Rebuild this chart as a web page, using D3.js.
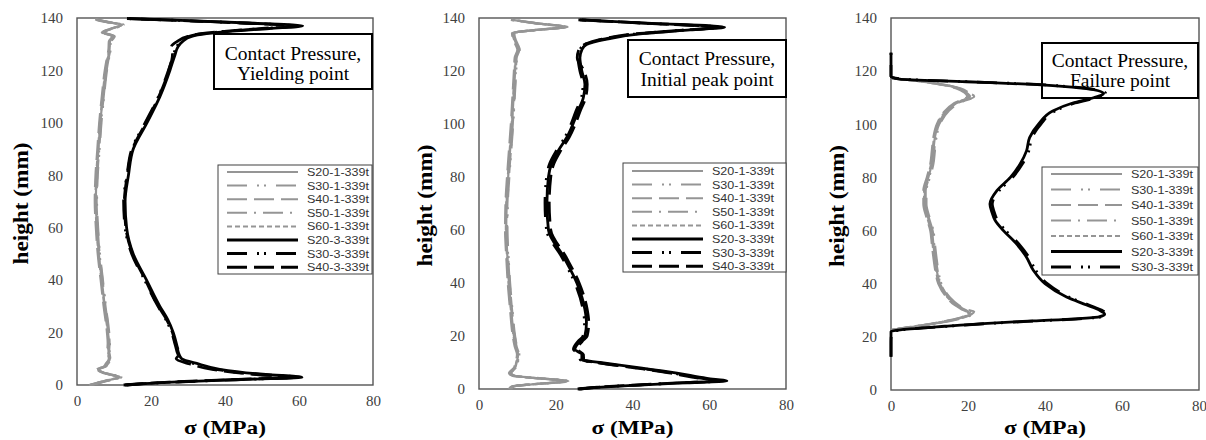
<!DOCTYPE html>
<html>
<head>
<meta charset="utf-8">
<script src="https://cdn.jsdelivr.net/npm/d3@7"></script>
<style>
	body { margin: 0; background: #fff; }
	svg { display: block; }
</style>
</head>
<body>
<script>
// tick values shared by the three panels
let xTicks = [0, 20, 40, 60, 80]
let yTicks = [0, 20, 40, 60, 80, 100, 120, 140]

let legendNames = ['S20-1-339t', 'S30-1-339t', 'S40-1-339t', 'S50-1-339t', 'S60-1-339t', 'S20-3-339t', 'S30-3-339t', 'S40-3-339t']

// ---- yielding point ----
let p1GrayH = [0, 1, 2, 3, 4, 5, 6, 7, 8, 10, 13, 16, 20, 30, 40, 50, 60, 70, 80, 90, 100, 110, 120, 125, 128, 131, 133, 134.5, 136, 137.4, 138.5, 139.5]
let p1S20_1 = [3.5, 6.2, 9.0, 11.6, 9.0, 6.5, 5.7, 7.5, 8.0, 8.9, 8.5, 8.6, 8.4, 7.5, 6.7, 5.9, 5.4, 5.1, 5.3, 5.8, 6.3, 7.0, 7.8, 8.4, 8.8, 8.9, 9.8, 7.0, 9.5, 12.2, 8.0, 4.9]
let p1S30_1 = [3.8, 6.6, 9.4, 12.0, 9.4, 6.8, 6.0, 7.8, 8.3, 9.2, 8.8, 8.9, 8.7, 7.8, 7.0, 6.2, 5.7, 5.4, 5.6, 6.1, 6.6, 7.3, 8.1, 8.7, 9.1, 9.3, 10.2, 7.4, 9.8, 12.6, 8.4, 5.2]
let p1S40_1 = [3.3, 5.9, 8.6, 11.2, 8.7, 6.2, 5.4, 7.2, 7.7, 8.6, 8.2, 8.3, 8.1, 7.2, 6.4, 5.6, 5.1, 4.8, 5.0, 5.5, 6.0, 6.7, 7.5, 8.1, 8.5, 8.6, 9.5, 6.7, 9.2, 11.8, 7.7, 4.6]
let p1S50_1 = [3.6, 6.4, 9.2, 11.8, 9.2, 6.6, 5.9, 7.7, 8.2, 9.0, 8.7, 8.8, 8.6, 7.7, 6.9, 6.1, 5.6, 5.3, 5.5, 6.0, 6.5, 7.2, 8.0, 8.6, 9.0, 9.1, 10.0, 7.2, 9.7, 12.4, 8.2, 5.0]
let p1S60_1 = [3.4, 6.0, 8.8, 11.4, 8.8, 6.4, 5.6, 7.4, 7.9, 8.7, 8.4, 8.5, 8.3, 7.4, 6.6, 5.8, 5.3, 5.0, 5.2, 5.7, 6.2, 6.9, 7.7, 8.3, 8.7, 8.8, 9.7, 6.9, 9.4, 12.0, 7.9, 4.8]

let p1BlackH = [0, 0.5, 1, 2, 3, 4, 6, 8, 10, 12, 15, 20, 25, 30, 40, 50, 60, 70, 80, 90, 100, 110, 120, 126, 129, 131, 133, 134, 135, 136, 137, 138, 139, 139.8]
let p1S20_3 = [13.0, 18.0, 24.0, 42.0, 60.8, 51.0, 38.6, 33.0, 28.3, 27.5, 27.0, 26.0, 24.5, 22.4, 18.8, 15.2, 13.4, 13.0, 13.9, 15.2, 18.9, 22.4, 25.1, 26.5, 27.3, 28.5, 31.0, 35.0, 42.0, 52.0, 61.0, 48.0, 30.0, 13.5]
let p1S30_3 = [13.4, 18.5, 24.8, 43.0, 59.5, 49.5, 37.5, 32.0, 28.0, 27.2, 26.6, 25.6, 24.0, 21.9, 18.3, 14.8, 13.0, 12.6, 13.5, 14.8, 18.4, 22.0, 24.7, 26.1, 26.9, 28.0, 30.3, 34.0, 41.0, 50.5, 59.0, 46.5, 29.0, 13.0]
let p1S40_3 = [12.6, 17.5, 23.5, 41.0, 58.0, 48.5, 36.5, 30.5, 26.8, 27.8, 26.8, 25.8, 24.2, 22.0, 18.5, 15.0, 13.2, 12.8, 13.6, 15.0, 18.6, 22.1, 24.8, 25.8, 25.5, 27.0, 30.0, 33.5, 40.5, 50.0, 58.5, 46.0, 28.5, 13.8]

// ---- initial peak point ----
let p2GrayH = [0, 1, 2, 3, 4, 5, 6, 8, 10, 13, 16, 20, 30, 40, 50, 60, 70, 80, 90, 100, 110, 120, 125, 128, 130, 132, 134.3, 135.5, 136.6, 138, 139.3]
let p2S20_1 = [8.1, 8.9, 16.0, 23.3, 16.0, 9.0, 8.1, 9.4, 9.8, 10.2, 9.6, 9.1, 8.4, 7.8, 7.4, 7.1, 7.2, 7.6, 8.1, 8.6, 9.0, 9.4, 9.6, 10.3, 9.8, 9.2, 8.9, 15.0, 22.9, 15.0, 8.6]
let p2S30_1 = [8.4, 9.2, 16.5, 23.0, 16.4, 9.3, 8.4, 9.7, 10.1, 10.5, 9.9, 9.4, 8.7, 8.1, 7.7, 7.4, 7.5, 7.9, 8.4, 8.9, 9.3, 9.7, 9.9, 10.6, 10.1, 9.5, 9.2, 15.4, 22.5, 15.4, 8.9]
let p2S40_1 = [7.8, 8.6, 15.6, 22.8, 15.6, 8.7, 7.8, 9.1, 9.5, 9.9, 9.3, 8.8, 8.1, 7.5, 7.1, 6.8, 6.9, 7.3, 7.8, 8.3, 8.7, 9.1, 9.3, 10.0, 9.5, 8.9, 8.6, 14.6, 22.3, 14.7, 8.3]
let p2S50_1 = [8.2, 9.0, 16.3, 23.6, 16.2, 9.2, 8.3, 9.6, 10.0, 10.4, 9.8, 9.3, 8.6, 8.0, 7.6, 7.3, 7.4, 7.8, 8.3, 8.8, 9.2, 9.6, 9.8, 10.5, 10.0, 9.4, 9.1, 15.2, 23.1, 15.2, 8.8]
let p2S60_1 = [8.0, 8.8, 15.8, 23.0, 15.8, 8.9, 8.0, 9.3, 9.7, 10.1, 9.5, 9.0, 8.3, 7.7, 7.3, 7.0, 7.1, 7.5, 8.0, 8.5, 8.9, 9.3, 9.5, 10.2, 9.7, 9.1, 8.8, 14.8, 22.6, 14.9, 8.5]

let p2BlackH = [0, 0.7, 1.5, 2.3, 3, 4, 6, 8, 10, 11, 13, 15, 18, 20, 25, 30, 40, 50, 60, 70, 80, 85, 90, 95, 100, 105, 110, 115, 120, 125, 128, 130, 132, 134, 135.5, 136.5, 138, 139.3]
let p2S20_3 = [26.0, 32.0, 42.0, 53.0, 64.6, 59.4, 51.6, 42.0, 31.5, 26.8, 26.8, 25.0, 26.3, 27.6, 28.0, 27.6, 25.5, 22.0, 18.1, 17.7, 18.1, 18.9, 20.7, 22.9, 24.5, 25.8, 27.2, 27.6, 26.8, 26.3, 26.8, 28.0, 33.3, 42.0, 55.0, 64.0, 45.0, 26.3]
let p2S30_3 = [26.4, 31.5, 41.0, 52.0, 63.0, 58.2, 50.5, 41.0, 30.8, 26.4, 26.2, 24.6, 25.8, 27.1, 27.5, 27.1, 25.0, 21.5, 17.6, 17.2, 17.6, 18.4, 20.2, 22.4, 24.0, 25.3, 26.7, 27.1, 26.3, 25.8, 26.3, 27.5, 32.5, 41.0, 54.0, 63.0, 44.0, 26.8]
let p2S40_3 = [25.7, 31.0, 40.5, 51.5, 62.5, 57.5, 50.0, 40.5, 30.5, 27.3, 27.2, 25.6, 26.9, 28.2, 28.6, 28.2, 26.1, 22.6, 18.7, 18.3, 18.7, 19.5, 21.3, 23.5, 25.1, 26.4, 27.8, 28.2, 27.4, 25.6, 26.0, 27.5, 32.0, 40.5, 53.5, 62.5, 43.5, 25.9]

// ---- failure point ----
let p3GrayH = [22.5, 23.5, 24.5, 25.5, 26.5, 27.5, 28.5, 29.5, 30.5, 32, 35, 40, 45, 50, 55, 60, 65, 70, 75, 80, 85, 90, 95, 100, 105, 108, 110.5, 112, 113.5, 114.5, 115.5, 116.5, 117.3]
let p3S20_1 = [0, 4.0, 9.0, 13.0, 16.5, 19.0, 20.5, 20.0, 18.8, 17.0, 14.8, 12.7, 11.9, 11.4, 11.0, 10.6, 9.6, 8.8, 8.8, 9.7, 10.6, 11.0, 11.4, 12.3, 14.5, 17.0, 20.5, 19.5, 17.5, 15.0, 11.0, 6.0, 0]
let p3S30_1 = [0, 4.3, 9.4, 13.5, 17.0, 19.6, 21.2, 20.6, 19.3, 17.5, 15.2, 13.1, 12.3, 11.8, 11.4, 11.0, 10.0, 9.2, 9.2, 10.1, 11.0, 11.4, 11.8, 12.7, 15.0, 17.6, 21.3, 20.1, 18.0, 15.4, 11.4, 6.3, 0]
let p3S40_1 = [0, 3.8, 8.7, 12.6, 16.0, 18.5, 19.8, 19.5, 18.2, 16.5, 14.4, 12.3, 11.5, 11.0, 10.6, 10.2, 9.2, 8.4, 8.4, 9.3, 10.2, 10.6, 11.0, 11.9, 14.0, 16.5, 19.8, 19.0, 17.0, 14.6, 10.6, 5.7, 0]
let p3S50_1 = [0, 4.1, 9.2, 13.3, 16.8, 19.3, 20.9, 21.6, 19.0, 17.3, 15.0, 12.9, 12.1, 11.6, 11.2, 10.8, 9.8, 9.0, 9.0, 9.9, 10.8, 11.2, 11.6, 12.5, 14.8, 17.3, 21.6, 19.8, 17.8, 15.2, 11.2, 6.1, 0]
let p3S60_1 = [0, 3.9, 8.8, 12.8, 16.2, 18.8, 20.2, 19.8, 18.5, 16.8, 14.6, 12.5, 11.7, 11.2, 10.8, 10.4, 9.4, 8.6, 8.6, 9.5, 10.4, 10.8, 11.2, 12.1, 14.3, 16.8, 20.2, 19.3, 17.3, 14.8, 10.8, 5.9, 0]

let p3BlackH = [12.5, 15, 18, 22, 23, 24, 25, 26, 26.8, 27.5, 28.5, 30, 32, 35, 40, 45, 50, 55, 60, 64, 67, 70, 75, 80, 85, 90, 95, 100, 105, 108, 110, 111.5, 113, 114, 115, 116, 117, 118, 122, 127]
let p3S20_3 = [0, 0, 0, 0, 5.0, 14.0, 24.0, 37.0, 48.0, 54.0, 55.5, 54.2, 50.8, 45.6, 40.0, 37.0, 35.2, 32.6, 29.2, 27.0, 26.2, 25.7, 27.5, 31.0, 33.5, 35.2, 36.0, 38.3, 42.0, 47.2, 52.6, 55.2, 52.6, 47.0, 37.0, 19.6, 2.3, 0, 0, 0]
let p3S30_3 = [0, 0, 0, 0.2, 5.5, 14.8, 25.0, 38.0, 49.0, 54.6, 56.0, 54.8, 51.4, 46.2, 40.6, 37.6, 35.8, 33.2, 29.8, 27.6, 26.8, 26.3, 28.1, 31.6, 34.1, 35.8, 36.6, 38.9, 42.6, 47.8, 53.2, 55.8, 53.2, 47.6, 37.8, 20.4, 2.8, 0, 0, 0]

// line looks, by series name
let grey = '#959595'
let styles = {
	'S20-1-339t': {c: grey, w: 2.2, dash: null},
	'S30-1-339t': {c: grey, w: 2.2, dash: '20,10,2,5,2,10'},
	'S40-1-339t': {c: grey, w: 2.2, dash: '20,7'},
	'S50-1-339t': {c: grey, w: 2.2, dash: '20,7,2,7'},
	'S60-1-339t': {c: grey, w: 2.2, dash: '5,3'},
	'S20-3-339t': {c: '#000', w: 2.8, dash: null},
	'S30-3-339t': {c: '#000', w: 2.8, dash: '20,10,2,5,2,10'},
	'S40-3-339t': {c: '#000', w: 2.8, dash: '20,7'}
}

let panels = [
	{
		pos: {x0: 77, x1: 373, y0: 18, y1: 385}, yTitleX: 21,
		title: ['Contact Pressure,', 'Yielding point'], box: {x: 214, y: 34, w: 158, h: 55, l1: 60, l2: 80},
		legend: {x: 218, y: 165, w: 154, h: 109, row0: 172, step: 13.6, n: 8},
		series: [
			['S20-1-339t', p1GrayH, p1S20_1], ['S30-1-339t', p1GrayH, p1S30_1], ['S40-1-339t', p1GrayH, p1S40_1],
			['S50-1-339t', p1GrayH, p1S50_1], ['S60-1-339t', p1GrayH, p1S60_1],
			['S20-3-339t', p1BlackH, p1S20_3], ['S30-3-339t', p1BlackH, p1S30_3], ['S40-3-339t', p1BlackH, p1S40_3]
		]
	},
	{
		pos: {x0: 479, x1: 786, y0: 18, y1: 389}, yTitleX: 425,
		title: ['Contact Pressure,', 'Initial peak point'], box: {x: 628, y: 40, w: 158, h: 57, l1: 65, l2: 86},
		legend: {x: 623, y: 163, w: 163, h: 109, row0: 171, step: 13.6, n: 8},
		series: [
			['S20-1-339t', p2GrayH, p2S20_1], ['S30-1-339t', p2GrayH, p2S30_1], ['S40-1-339t', p2GrayH, p2S40_1],
			['S50-1-339t', p2GrayH, p2S50_1], ['S60-1-339t', p2GrayH, p2S60_1],
			['S20-3-339t', p2BlackH, p2S20_3], ['S30-3-339t', p2BlackH, p2S30_3], ['S40-3-339t', p2BlackH, p2S40_3]
		]
	},
	{
		pos: {x0: 891, x1: 1199, y0: 18, y1: 390}, yTitleX: 837,
		title: ['Contact Pressure,', 'Failure point'], box: {x: 1042, y: 43, w: 156, h: 55, l1: 67, l2: 87},
		legend: {x: 1042, y: 167, w: 156, h: 108, row0: 174, step: 15.5, n: 7},
		series: [
			['S20-1-339t', p3GrayH, p3S20_1], ['S30-1-339t', p3GrayH, p3S30_1], ['S40-1-339t', p3GrayH, p3S40_1],
			['S50-1-339t', p3GrayH, p3S50_1], ['S60-1-339t', p3GrayH, p3S60_1],
			['S20-3-339t', p3BlackH, p3S20_3], ['S30-3-339t', p3BlackH, p3S30_3]
		]
	}
]

let serif = "'Liberation Serif', 'Times New Roman', Tinos, 'DejaVu Serif', 'Noto Serif', FreeSerif, serif"
let sans = "'Liberation Sans Narrow', 'Liberation Sans', Arial, sans-serif"

let svg = d3.select('body').append('svg')
	.attr('width', 1206).attr('height', 440)

let drawPanel = function(pan) {
	let {x0, x1, y0, y1} = pan.pos
	let x = d3.scaleLinear().domain([0, 80]).range([x0, x1])
	let y = d3.scaleLinear().domain([0, 140]).range([y1, y0])
	let g = svg.append('g')

	// plot frame
	g.append('rect')
		.attr('x', x0).attr('y', y0).attr('width', x1-x0).attr('height', y1-y0)
		.attr('fill', 'none').attr('stroke', '#555').attr('stroke-width', 1.4)

	// tick labels, no tick marks
	let yAxis = g.append('g').attr('transform', `translate(${x0},0)`)
		.call(d3.axisLeft(y).tickValues(yTicks).tickSize(0).tickPadding(14))
	let xAxis = g.append('g').attr('transform', `translate(0,${y1})`)
		.call(d3.axisBottom(x).tickValues(xTicks).tickSize(0).tickPadding(10))
	for (let a of [xAxis, yAxis]) {
		a.attr('font-family', serif).attr('font-size', 15)
		a.select('.domain').remove()
		a.selectAll('text').style('font-family', serif).attr('fill', '#404040')
	}

	g.append('text')
		.attr('x', (x0+x1)/2).attr('y', 434)
		.attr('text-anchor', 'middle')
		.style('font-family', serif).attr('font-size', 19).attr('font-weight', 'bold')
		.attr('textLength', 82).attr('lengthAdjust', 'spacingAndGlyphs')
		.text('σ (MPa)')
	g.append('text')
		.attr('transform', `translate(${pan.yTitleX},${(y0+y1)/2 + 2}) rotate(-90)`)
		.attr('text-anchor', 'middle').attr('dominant-baseline', 'central')
		.style('font-family', serif).attr('font-size', 20).attr('font-weight', 'bold')
		.attr('textLength', 122).attr('lengthAdjust', 'spacingAndGlyphs')
		.text('height (mm)')

	// title box
	let b = pan.box
	g.append('rect')
		.attr('x', b.x).attr('y', b.y).attr('width', b.w).attr('height', b.h)
		.attr('fill', '#fff').attr('stroke', '#000').attr('stroke-width', 2)
	pan.title.forEach((t, i) => {
		g.append('text')
			.attr('x', b.x + b.w/2).attr('y', i == 0 ? b.l1 : b.l2)
			.attr('text-anchor', 'middle')
			.style('font-family', serif).attr('font-size', 19.5)
			.text(t)
	})

	// legend
	let L = pan.legend
	g.append('rect')
		.attr('x', L.x).attr('y', L.y).attr('width', L.w).attr('height', L.h)
		.attr('fill', '#fff').attr('stroke', '#404040').attr('stroke-width', 1)
	for (let i = 0; i < L.n; i++) {
		let name = legendNames[i]
		let st = styles[name]
		let ry = L.row0 + i*L.step
		g.append('line')
			.attr('x1', L.x+9).attr('x2', L.x+80)
			.attr('y1', ry).attr('y2', ry)
			.attr('stroke', st.c).attr('stroke-width', st.c == grey ? 2 : 3)
			.attr('stroke-dasharray', st.dash)
		g.append('text')
			.attr('x', L.x+89).attr('y', ry)
			.attr('dominant-baseline', 'central')
			.style('font-family', sans)
			.attr('font-size', 11.5).attr('fill', '#333')
			.attr('textLength', 62).attr('lengthAdjust', 'spacingAndGlyphs')
			.text(name)
	}

	// profiles: grey (-1) under black (-3), drawn over the boxes
	let line = d3.line()
		.x(d => x(d[0])).y(d => y(d[1]))
		.curve(d3.curveMonotoneY)
	for (let s of pan.series) {
		let [name, hs, vals] = s
		let st = styles[name]
		g.append('path')
			.datum(vals.map((v, i) => [v, hs[i]]))
			.attr('d', line)
			.attr('fill', 'none')
			.attr('stroke', st.c).attr('stroke-width', st.w)
			.attr('stroke-dasharray', st.dash)
			.attr('stroke-linejoin', 'round')
	}
}

panels.forEach(drawPanel)
</script>
</body>
</html>
